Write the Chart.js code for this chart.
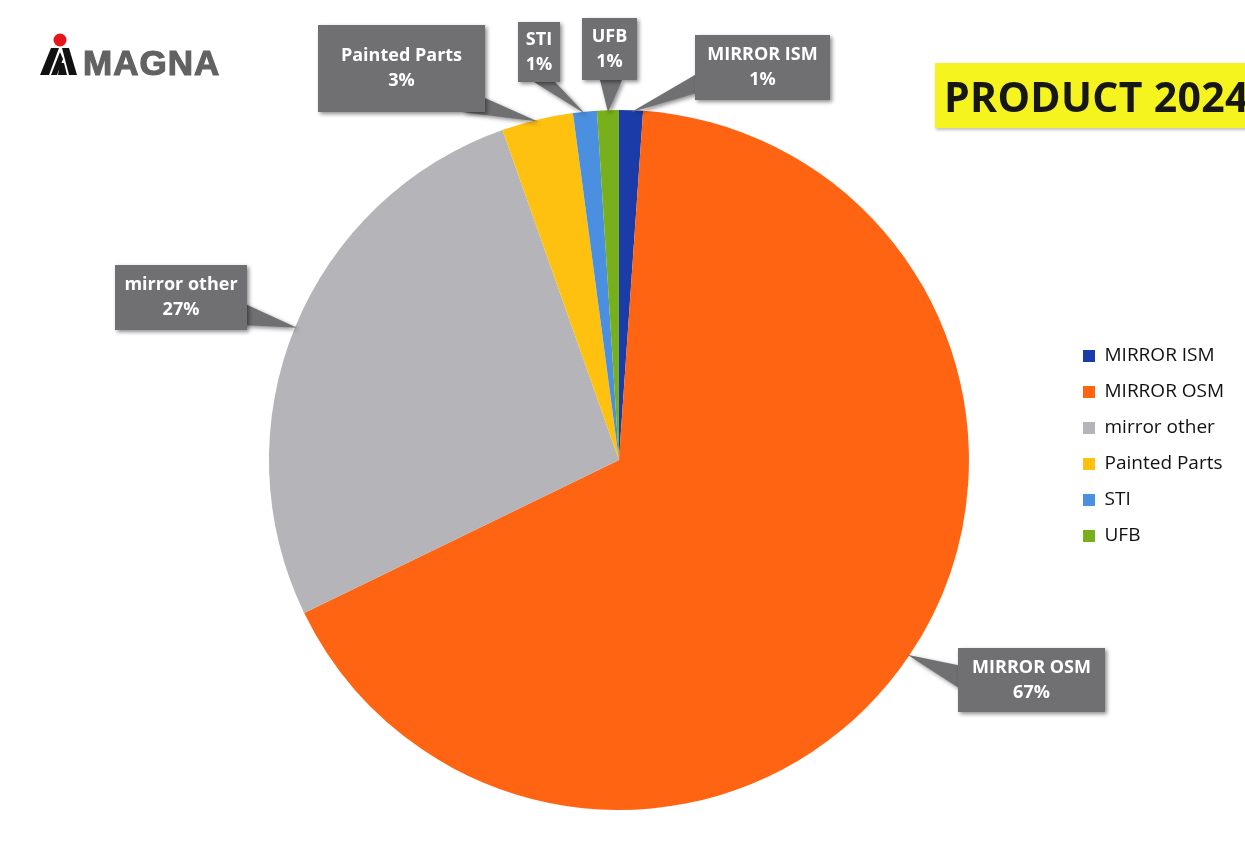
<!DOCTYPE html>
<html>
<head>
<meta charset="utf-8">
<script src="https://cdn.jsdelivr.net/npm/chart.js@4.4.1/dist/chart.umd.min.js"></script>
<style>
  body { margin: 0; background: #fff; width: 1245px; height: 846px; overflow: hidden; position: relative; font-family: "Open Sans", sans-serif; }
  #chart { position: absolute; left: 0; top: 0; }
  .title { position: absolute; left: 935px; top: 63px; width: 320px; height: 65px; background: #f6f41e; box-shadow: 1px 2px 3px rgba(0,0,0,0.25); }
  .title span { position: absolute; left: 9px; top: 5px; font-weight: 700; font-size: 41px; color: #171717; white-space: nowrap; letter-spacing: 0.3px; }
  .logo { position: absolute; left: 38px; top: 32px; }
  .logo span { position: absolute; left: 45px; top: 11px; font-family: "Liberation Sans", Arial, sans-serif; font-weight: 700; font-size: 35px; line-height: normal; color: #626262; letter-spacing: 1px; -webkit-text-stroke: 1.2px #626262; }
</style>
</head>
<body>
<canvas id="chart" width="1245" height="846"></canvas>
<div class="logo">
  <svg width="45" height="46" viewBox="0 0 45 46">
    <circle cx="22" cy="8" r="6.5" fill="#e8131b"/>
    <polygon points="2,43 13,16 21,16 11,43" fill="#111"/>
    <polygon points="13,43 22,20 25,27 19,43" fill="#111"/>
    <polygon points="24,16 31,16 39,43 31,43" fill="#111"/>
    <polygon points="22,31 26,31 29,43 20,43" fill="#111"/>
  </svg>
  <span>MAGNA</span>
</div>
<div class="title"><span>PRODUCT 2024</span></div>
<script>
const categories = ["MIRROR ISM", "MIRROR OSM", "mirror other", "Painted Parts", "STI", "UFB"];
const shares = [1.1, 66.7, 26.8, 3.3, 1.1, 1.0];
const percentLabels = ["1%", "67%", "27%", "3%", "1%", "1%"];
const sliceColors = ["#1b3ca8", "#ff6412", "#b5b5b9", "#ffc10f", "#4a8fe0", "#78b01c"];

// callout boxes (layout only), one per slice
const callouts = [
  { x: 695, y: 35, w: 135, h: 65, base: [[700, 72], [700, 92]] },
  { x: 958, y: 648, w: 147, h: 64, base: [[962, 666], [962, 690]] },
  { x: 115, y: 265, w: 132, h: 65, base: [[243, 303], [243, 325]] },
  { x: 318, y: 25, w: 167, h: 87, base: [[462, 112], [485, 98]] },
  { x: 518, y: 22, w: 42, h: 60, base: [[534, 82], [555, 82]] },
  { x: 582, y: 18, w: 55, h: 62, base: [[600, 80], [622, 80]] }
];

const calloutPlugin = {
  id: "callouts",
  afterDatasetsDraw(chart) {
    const ctx = chart.ctx;
    const arcs = chart.getDatasetMeta(0).data;
    arcs.forEach((arc, i) => {
      const c = callouts[i];
      const p = arc.getProps(["x", "y", "startAngle", "endAngle", "outerRadius"], true);
      const mid = (p.startAngle + p.endAngle) / 2;
      const tx = p.x + Math.cos(mid) * (p.outerRadius - 2);
      const ty = p.y + Math.sin(mid) * (p.outerRadius - 2);
      ctx.save();
      ctx.shadowColor = "rgba(0,0,0,0.45)";
      ctx.shadowBlur = 4;
      ctx.shadowOffsetX = 2;
      ctx.shadowOffsetY = 2;
      ctx.fillStyle = "#707073";
      ctx.beginPath();
      ctx.moveTo(c.base[0][0], c.base[0][1]);
      ctx.lineTo(tx, ty);
      ctx.lineTo(c.base[1][0], c.base[1][1]);
      ctx.closePath();
      ctx.fill();
      ctx.fillRect(c.x, c.y, c.w, c.h);
      ctx.restore();
      ctx.save();
      ctx.fillStyle = "#ffffff";
      ctx.font = "700 18px 'Open Sans'";
      ctx.textAlign = "center";
      ctx.textBaseline = "middle";
      const cx = c.x + c.w / 2, cy = c.y + c.h / 2;
      ctx.fillText(categories[i], cx, cy - 12.5);
      ctx.fillText(percentLabels[i], cx, cy + 12.5);
      ctx.restore();
    });
  }
};

// nudge the legend block to where it sits in the original slide
const legendNudge = {
  id: "legendNudge",
  afterLayout(chart) {
    const lg = chart.legend;
    const dx = 1083 - 17 - lg.left;
    lg.left += dx; lg.right += dx;
    lg.top -= 14; lg.bottom -= 14;
  }
};

new Chart(document.getElementById("chart"), {
  type: "pie",
  data: {
    labels: categories,
    datasets: [{
      data: shares,
      backgroundColor: sliceColors,
      borderWidth: 0
    }]
  },
  options: {
    responsive: false,
    animation: false,
    devicePixelRatio: 1,
    layout: { padding: { top: 110, bottom: 36, left: 170, right: 9 } },
    plugins: {
      legend: {
        position: "right",
        labels: {
          boxWidth: 12,
          boxHeight: 12,
          padding: 17,
          color: "#111",
          font: { family: "Open Sans", size: 19 }
        }
      },
      tooltip: { enabled: false }
    }
  },
  plugins: [calloutPlugin, legendNudge]
});
</script>
</body>
</html>
